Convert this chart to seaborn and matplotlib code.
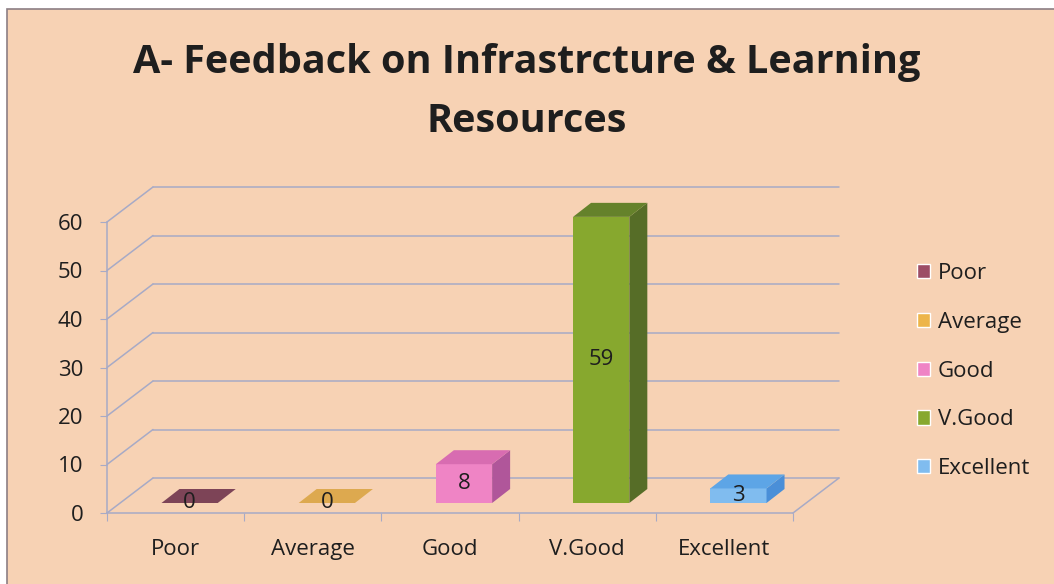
import numpy as np
import pandas as pd
import matplotlib
matplotlib.use("Agg")
import matplotlib.pyplot as plt
import seaborn as sns
from matplotlib.transforms import ScaledTranslation
from matplotlib.patches import Polygon, Rectangle

# ---------------- data ----------------
categories = ["Poor", "Average", "Good", "V.Good", "Excellent"]
values = [0, 0, 8, 59, 3]
y_ticks = [0, 10, 20, 30, 40, 50, 60]
title_line1 = "A- Feedback on Infrastrcture & Learning"
title_line2 = "Resources"

front_colors = ["#9C4D66", "#EDB54A", "#EF84C5", "#87A82E", "#80BCEF"]
top_colors = ["#7D4457", "#DDA94F", "#D86CB1", "#65822B", "#5DA5E6"]
side_colors = ["#6A3547", "#C9963F", "#B0569A", "#566D27", "#4A8FD8"]

# ---------------- style ----------------
W, H, DPI = 1054, 584, 100
BG = "#F7D2B4"
GRID = "#A7AAC6"
TXT = "#1E1E1E"
FS = 16

sns.set_theme(style="white")
plt.rcParams["font.family"] = ["Open Sans", "DejaVu Sans"]

fig = plt.figure(figsize=(W / DPI, H / DPI), dpi=DPI, facecolor="white")
fig.patches.append(Rectangle((7 / W, -0.1), 1.2, (1 - 9 / H) + 0.1,
                             transform=fig.transFigure, facecolor=BG,
                             edgecolor="#8C7E84", linewidth=1.2, zorder=-10))

ax = fig.add_axes([107 / W, (H - 513) / H, (793 - 107) / W, (513 - 222) / H])
ax.set_facecolor("none")

df = pd.DataFrame({"Rating": categories, "Count": values})
sns.barplot(data=df, x="Rating", y="Count", hue="Rating", palette=front_colors,
            width=0.41, saturation=1, ax=ax, legend=True, zorder=5)
ax.set_xlim(-0.5, 4.5)
ax.set_ylim(0, 60)

ppx = ax.bbox.width / 5.0
ppy = ax.bbox.height / 60.0
shift = ax.transData + ScaledTranslation(14 / DPI, 10 / DPI, fig.dpi_scale_trans)
dx, dy = 18 / ppx, 14 / ppy       # bar depth
wx, wy = 46 / ppx, 35 / ppy       # wall depth

# back wall + side wall lines
for y in y_ticks:
    ax.plot([-0.5 + wx, 4.5 + wx], [y + wy, y + wy], color=GRID, lw=1.1,
            clip_on=False, zorder=1)
    ax.plot([-0.5, -0.5 + wx], [y, y + wy], color=GRID, lw=1.1,
            clip_on=False, zorder=1)
ax.plot([4.5, 4.5 + wx], [0, wy], color=GRID, lw=1.1, clip_on=False, zorder=1)

# 3D bars (front faces drawn by seaborn, shifted into depth)
bars = []
for cont in ax.containers:
    for p in cont:
        if np.isfinite(p.get_height()) and p.get_width() > 0:
            bars.append(p)
bars = sorted(bars, key=lambda p: p.get_x())
for bar in bars:
    x0, w, h = bar.get_x(), bar.get_width(), bar.get_height()
    k = int(round(x0 + w / 2))
    bar.set_transform(shift)
    bar.set_edgecolor("none")
    bar.set_clip_on(False)
    ax.add_patch(Polygon([(x0 + w, 0), (x0 + w + dx, dy), (x0 + w + dx, h + dy), (x0 + w, h)],
                         closed=True, transform=shift, facecolor=side_colors[k],
                         edgecolor="none", zorder=5, clip_on=False))
    ax.add_patch(Polygon([(x0, h), (x0 + w, h), (x0 + w + dx, h + dy), (x0 + dx, h + dy)],
                         closed=True, transform=shift, facecolor=top_colors[k],
                         edgecolor="none", zorder=5, clip_on=False))
    ax.text(x0 + w / 2, h / 2, f"{h:g}", transform=shift, ha="center",
            va="center", fontsize=FS, color=TXT, zorder=7, clip_on=False)

# axes styling
for s in ["top", "right"]:
    ax.spines[s].set_visible(False)
for s in ["left", "bottom"]:
    ax.spines[s].set_color(GRID)
    ax.spines[s].set_linewidth(1.1)
ax.set_yticks(y_ticks)
ax.tick_params(axis="y", which="major", left=True, length=5, width=0.8, color=GRID,
               labelsize=FS, labelcolor=TXT, pad=12)
ax.set_xticks(range(len(categories)))
ax.set_xticklabels(categories)
ax.set_xticks(np.arange(-0.5, 5, 1), minor=True)
ax.tick_params(axis="x", which="major", length=0, labelsize=FS, labelcolor=TXT, pad=19)
ax.tick_params(axis="x", which="minor", bottom=True, length=5.5, width=0.8, color=GRID)
ax.set_xlabel("")
ax.set_ylabel("")

# legend
handles, labels = ax.get_legend_handles_labels()
if ax.get_legend() is not None:
    ax.get_legend().remove()
fig.legend(handles, labels, loc="upper left", bbox_to_anchor=(917 / W, 1 - 263 / H),
           bbox_transform=fig.transFigure, frameon=False, fontsize=FS,
           handlelength=0.6, handleheight=0.6, handletextpad=0.35,
           labelspacing=1.25, borderpad=0, borderaxespad=0, labelcolor=TXT)

# title
fig.text(0.5, 1 - 73 / H, title_line1, ha="center", va="baseline", fontsize=28.5,
         fontweight="bold", color=TXT)
fig.text(0.5, 1 - 132 / H, title_line2, ha="center", va="baseline", fontsize=28.5,
         fontweight="bold", color=TXT)

fig.savefig("out.png", dpi=DPI, facecolor=fig.get_facecolor())
